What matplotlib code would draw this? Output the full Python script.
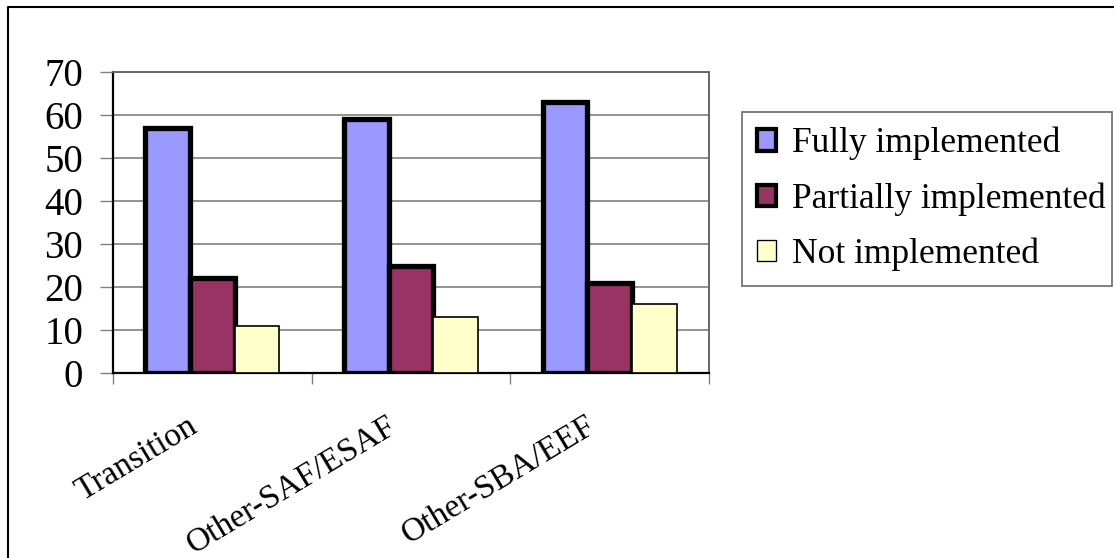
import numpy as np
import matplotlib
matplotlib.use("Agg")
import matplotlib.pyplot as plt
from matplotlib.lines import Line2D
from matplotlib.patches import Patch

plt.rcParams["font.family"] = ["Liberation Serif", "DejaVu Serif"]

categories = ["Transition", "Other-SAF/ESAF", "Other-SBA/EEF"]
fully = [57, 59, 63]
partially = [22, 25, 21]
not_impl = [11, 13, 16]
series_names = ["Fully implemented", "Partially implemented", "Not implemented"]
colors = ["#9999FF", "#993366", "#FFFFCC"]
edge_widths = [3.8, 3.8, 1.2]

W, H = 1114, 558
fig = plt.figure(figsize=(W / 100, H / 100), dpi=100)
ax = fig.add_axes([113 / W, 1 - 373 / H, (709 - 113) / W, (373 - 72) / H])

x = np.arange(len(categories)) + 0.5
bw = 0.225
for i, (vals, name) in enumerate(zip([fully, partially, not_impl], series_names)):
    ax.bar(x + (i - 1) * bw, vals, bw, color=colors[i], edgecolor="black",
           linewidth=edge_widths[i], label=name, zorder=3)

ax.set_xlim(0, len(categories))
ax.set_ylim(0, 70)
ax.set_yticks(range(0, 71, 10))
ax.yaxis.grid(True, color="#808080", linewidth=1.2, zorder=0)
ax.tick_params(axis="y", labelsize=28, length=9.5, width=1, color="#808080", pad=12)

ax.set_xticks(range(len(categories) + 1))
ax.set_xticklabels([])
ax.tick_params(axis="x", which="major", length=8, width=1, color="#808080")

# rotated category labels, right end just left of each group centre
for xc, lab in zip(x, categories):
    ax.annotate(lab, xy=(xc, 0), xycoords=("data", "axes fraction"),
                xytext=(-18, -27), textcoords="offset points",
                rotation=31, rotation_mode="anchor", ha="right", va="top",
                fontsize=24)

for s in ["left", "bottom"]:
    ax.spines[s].set_color("black")
    ax.spines[s].set_linewidth(1.6)
for s in ["top", "right"]:
    ax.spines[s].set_color("#666666")
    ax.spines[s].set_linewidth(1.4)

handles = [Patch(facecolor=colors[i], edgecolor="black", linewidth=edge_widths[i] * 0.8)
           for i in range(3)]
leg = ax.legend(handles, series_names, loc="upper left",
                bbox_to_anchor=(742 / W, 1 - 283 / H, (1112 - 742) / W, (283 - 112) / H),
                bbox_transform=fig.transFigure, mode="expand",
                fontsize=25.5, frameon=True, fancybox=False, handlelength=0.55,
                handleheight=0.55, handletextpad=0.45, labelspacing=0.62,
                borderpad=0.42, borderaxespad=0)
leg.get_frame().set_edgecolor("#444444")
leg.get_frame().set_linewidth(1.2)

# outer chart border (left and top edges visible)
fig.add_artist(Line2D([8 / W, 8 / W, 1.0], [0.0, 1 - 7 / H, 1 - 7 / H],
                      transform=fig.transFigure, color="black", linewidth=1.5))

fig.savefig("out.png", dpi=100)
